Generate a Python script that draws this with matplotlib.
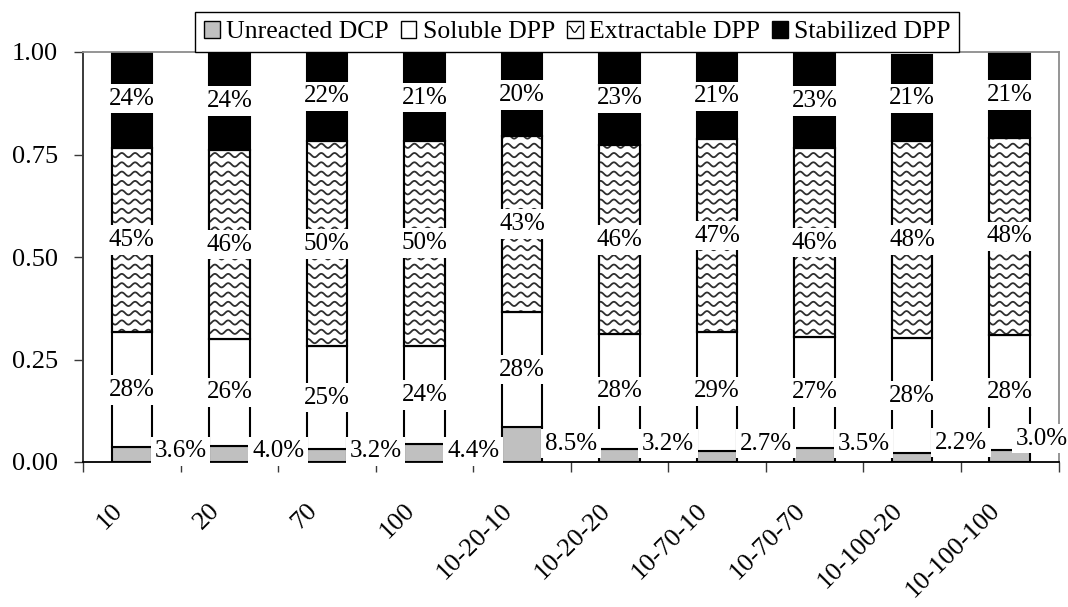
import numpy as np
import matplotlib
matplotlib.use("Agg")
import matplotlib.pyplot as plt
from matplotlib.patches import Patch
from matplotlib.lines import Line2D
from matplotlib.legend_handler import HandlerPatch
from matplotlib.transforms import blended_transform_factory, ScaledTranslation

# ---- data (percent of total) ----
categories = ["10", "20", "70", "100", "10-20-10", "10-20-20",
              "10-70-10", "10-70-70", "10-100-20", "10-100-100"]
unreacted_dcp = [3.6, 4.0, 3.2, 4.4, 8.5, 3.2, 2.7, 3.5, 2.2, 3.0]
soluble_dpp = [28, 26, 25, 24, 28, 28, 29, 27, 28, 28]
extractable_dpp = [45, 46, 50, 50, 43, 46, 47, 46, 48, 48]
stabilized_dpp = [24, 24, 22, 21, 20, 23, 21, 23, 21, 21]
series_names = ["Unreacted DCP", "Soluble DPP", "Extractable DPP", "Stabilized DPP"]
y_ticks = [0.0, 0.25, 0.50, 0.75, 1.00]

# ---- layout for the DCP labels placed beside each bar ----
dcp_label_dx = [0.5, 0.5, 0.5, 0.5, 0.5, 0.5, 0.5, 0.5, 0.5, 0.33]
dcp_label_y = [0.026, 0.026, 0.026, 0.026, 0.045, 0.045, 0.045, 0.045, 0.047, 0.057]

FONT = "Liberation Serif"
plt.rcParams["font.family"] = [FONT, "DejaVu Serif"]

W, H, DPI = 1068, 607, 100
fig = plt.figure(figsize=(W / DPI, H / DPI), dpi=DPI)
ax_left, ax_right, ax_top, ax_bot = 83.0, 1058.5, 52.0, 462.0
ax = fig.add_axes([ax_left / W, 1 - ax_bot / H,
                   (ax_right - ax_left) / W, (ax_bot - ax_top) / H])

n = len(categories)
x = np.arange(n)
bar_w = 0.415
ax.set_xlim(-0.5, n - 0.5)
ax.set_ylim(0, 1.0)

px_per_x = (ax_right - ax_left) / n
px_per_y = (ax_bot - ax_top) / 1.0

fractions = [np.array(s, dtype=float) / 100.0
             for s in (unreacted_dcp, soluble_dpp, extractable_dpp, stabilized_dpp)]
faces = ["#c0c0c0", "white", "white", "black"]
edge_lw = 1.5

bottoms = np.zeros(n)
containers = []
for frac, fc in zip(fractions, faces):
    bc = ax.bar(x, frac, bar_w, bottom=bottoms, color=fc, edgecolor="black",
                linewidth=edge_lw, zorder=2)
    containers.append((bc, bottoms.copy(), frac))
    bottoms = bottoms + frac

# wavy fill for the extractable segments, clipped to each bar
period_px, amp_px, gap_px = 13.3, 2.1, 9.3
gap_y = gap_px / px_per_y
amp_y = amp_px / px_per_y
ext_bars = containers[2][0]
for rect in ext_bars.patches:
    x0, y0 = rect.get_x(), rect.get_y()
    w, h = rect.get_width(), rect.get_height()
    xs = np.linspace(x0, x0 + w, 120)
    k0 = int(np.floor(y0 / gap_y)) - 1
    k1 = int(np.ceil((y0 + h) / gap_y)) + 1
    for k in range(k0, k1 + 1):
        base = k * gap_y
        ys = base + amp_y * np.sin(2 * np.pi * (xs * px_per_x) / period_px)
        ln = Line2D(xs, ys, color="#2e2e2e", lw=1.3, zorder=2.2)
        ax.add_line(ln)
        ln.set_clip_box(None)
        ln.set_clip_path(rect)
# outlines on top of the wave pattern
ax.bar(x, fractions[2], bar_w, bottom=containers[2][1], fill=False,
       edgecolor="black", linewidth=edge_lw, zorder=2.4)

# ---- value labels ----
lbl_fs = 18
box = dict(boxstyle="square,pad=0.15", fc="white", ec="none")
for si in (1, 2, 3):
    _, bot, frac = containers[si]
    for i in range(n):
        yc = bot[i] + frac[i] / 2
        ax.text(x[i], yc, f"{frac[i] * 100:.0f}%", ha="center", va="center",
                fontsize=lbl_fs, color="black", bbox=box, zorder=6, clip_on=False)
for i in range(n):
    ax.text(x[i] + dcp_label_dx[i], dcp_label_y[i], f"{unreacted_dcp[i]:.1f}%",
            ha="center", va="center", fontsize=lbl_fs, color="black",
            bbox=box, zorder=6, clip_on=False)

# ---- axes styling ----
for side in ("top", "right"):
    ax.spines[side].set_color("#8c8c8c")
    ax.spines[side].set_linewidth(1.3)
ax.spines["left"].set_color("#3a3a3a")
ax.spines["left"].set_linewidth(1.4)
ax.spines["bottom"].set_color("black")
ax.spines["bottom"].set_linewidth(1.3)

ax.set_yticks(y_ticks)
ax.set_yticklabels([f"{t:.2f}" for t in y_ticks])
ax.tick_params(axis="y", direction="out", length=6.5, width=1.0, color="#3a3a3a",
               pad=11.5, labelsize=19)
ax.set_xticks(np.arange(-0.5, n, 1.0))
ax.set_xticklabels([])
ax.tick_params(axis="x", direction="out", length=7.5, width=1.0, color="#3a3a3a")
for lab in ax.get_yticklabels():
    lab.set_fontfamily(FONT)

# category labels, rotated 45 degrees, ending just left of each category centre
xt = blended_transform_factory(ax.transData, ax.transAxes) + \
    ScaledTranslation(-13 / DPI, -45 / DPI, fig.dpi_scale_trans)
for i, c in enumerate(categories):
    ax.text(x[i], 0, c, transform=xt, rotation=45, rotation_mode="anchor",
            ha="right", va="center", fontsize=19, color="black", clip_on=False)


# ---- legend ----
class WaveSwatch(HandlerPatch):
    def create_artists(self, legend, orig_handle, xdescent, ydescent,
                       width, height, fontsize, trans):
        arts = super().create_artists(legend, orig_handle, xdescent, ydescent,
                                      width, height, fontsize, trans)
        xs = np.linspace(-xdescent + 0.15 * width, -xdescent + 0.85 * width, 40)
        t = (xs + xdescent) / width
        ys = -ydescent + height * (0.5 + 0.18 * np.sin(2 * np.pi * 1.5 * t))
        ln = Line2D(xs, ys, color="black", lw=0.9, transform=trans)
        return arts + [ln]


handles = [Patch(facecolor=fc, edgecolor="black", linewidth=1.0) for fc in faces]
leg = fig.legend(handles, series_names, loc="upper left",
                 bbox_to_anchor=(195 / W, 1 - 12 / H), bbox_transform=fig.transFigure,
                 ncol=4, fontsize=18.5, frameon=True, fancybox=False, framealpha=1,
                 edgecolor="black", borderpad=0.35, handlelength=0.62,
                 handleheight=0.62, handletextpad=0.25, columnspacing=0.45,
                 borderaxespad=0, handler_map={handles[2]: WaveSwatch()})
leg.get_frame().set_linewidth(1.0)
leg.set_zorder(10)

fig.savefig("out.png", dpi=DPI, facecolor="white")
